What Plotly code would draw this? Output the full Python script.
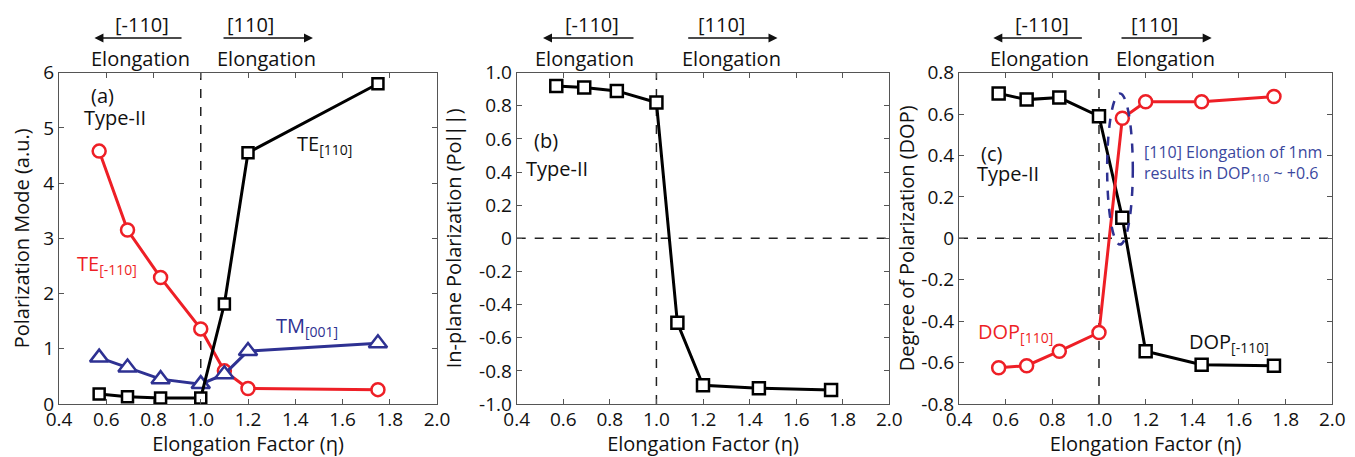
import plotly.graph_objects as go

# ---------------- data ----------------
a_x = [0.57, 0.69, 0.83, 1.0, 1.1, 1.2, 1.75]
te_110p = [0.18, 0.13, 0.11, 0.11, 1.81, 4.55, 5.8]      # TE[110]
te_110m = [4.58, 3.15, 2.29, 1.36, 0.60, 0.28, 0.26]     # TE[-110]
tm_001 = [0.84, 0.66, 0.45, 0.36, 0.54, 0.96, 1.10]      # TM[001]

b_x = [0.57, 0.69, 0.83, 1.0, 1.09, 1.2, 1.44, 1.75]
pol_inplane = [0.92, 0.91, 0.89, 0.82, -0.51, -0.887, -0.905, -0.915]

c_x = [0.57, 0.69, 0.83, 1.0, 1.1, 1.2, 1.44, 1.75]
dop_m110 = [0.70, 0.67, 0.68, 0.59, 0.10, -0.545, -0.61, -0.615]   # DOP[-110]
dop_p110 = [-0.625, -0.615, -0.545, -0.455, 0.58, 0.66, 0.66, 0.685]  # DOP[110]

x_ticks = [0.4, 0.6, 0.8, 1.0, 1.2, 1.4, 1.6, 1.8, 2.0]
x_ticktext = ["0.4", "0.6", "0.8", "1.0", "1.2", "1.4", "1.6", "1.8", "2.0"]
ya_ticks = [0, 1, 2, 3, 4, 5, 6]
yb_ticks = [-1.0, -0.8, -0.6, -0.4, -0.2, 0, 0.2, 0.4, 0.6, 0.8, 1.0]
yb_ticktext = ["-1.0", "-0.8", "-0.6", "-0.4", "-0.2", "0", "0.2", "0.4", "0.6", "0.8", "1.0"]
yc_ticks = [-0.8, -0.6, -0.4, -0.2, 0, 0.2, 0.4, 0.6, 0.8]
yc_ticktext = ["-0.8", "-0.6", "-0.4", "-0.2", "0", "0.2", "0.4", "0.6", "0.8"]

# ---------------- style / layout ----------------
FONT = "Open Sans"
RED = "#ee1f26"
BLUE = "#2e3192"
BLACK = "#000000"
LW = 3
OFF = 8                       # default page body margin
W, H = 1355 - OFF, 457 - OFF

def fx(px):   # page pixel x -> paper fraction
    return (px - OFF) / W

def fy(py):   # page pixel y -> paper fraction
    return (457 - py) / H

fig = go.Figure()

def line_trace(x, y, color, symbol, size, xa, ya):
    return go.Scatter(
        x=x, y=y, mode="lines+markers", xaxis=xa, yaxis=ya,
        line=dict(color=color, width=LW),
        marker=dict(symbol=symbol, size=size, color="white",
                    line=dict(color=color, width=2.5)),
        showlegend=False, cliponaxis=False,
    )

# panel (a)
fig.add_trace(line_trace(a_x, te_110m, RED, "circle", 13, "x", "y"))
fig.add_trace(line_trace(a_x, tm_001, BLUE, "triangle-up", 16, "x", "y"))
fig.add_trace(line_trace(a_x, te_110p, BLACK, "square", 11, "x", "y"))
# panel (b)
fig.add_trace(line_trace(b_x, pol_inplane, BLACK, "square", 12, "x2", "y2"))
# panel (c)
fig.add_trace(line_trace(c_x, dop_m110, BLACK, "square", 12, "x3", "y3"))
fig.add_trace(line_trace(c_x, dop_p110, RED, "circle", 13, "x3", "y3"))

ydom = [fy(404), fy(72.7)]
xdoms = [[fx(59), fx(437)], [fx(516.7), fx(889.3)], [fx(959), fx(1332.3)]]

axis_common = dict(
    showline=True, linecolor="#555555", linewidth=1, mirror="ticks",
    ticks="inside", ticklen=5, tickcolor="#555555", showgrid=False,
    zeroline=False, tickfont=dict(family=FONT, size=19, color="#111"),
    automargin=False,
)

for i, xa in enumerate(["xaxis", "xaxis2", "xaxis3"]):
    anchor_y = "y" if i == 0 else f"y{i+1}"
    fig.update_layout({
        xa: dict(axis_common, domain=xdoms[i], anchor=anchor_y, range=[0.4, 2.0],
                 tickvals=x_ticks, ticktext=x_ticktext, ticklabelstandoff=-2,
                 title=dict(text="Elongation Factor (η)", standoff=0,
                            font=dict(family=FONT, size=20, color="#111"))),
    })

fig.update_layout(
    yaxis=dict(axis_common, domain=ydom, anchor="x", range=[0, 6], tickvals=ya_ticks,
               title=dict(text="Polarization Mode (a.u.)", standoff=9,
                          font=dict(family=FONT, size=20, color="#111"))),
    yaxis2=dict(axis_common, domain=ydom, anchor="x2", range=[-1, 1], tickvals=yb_ticks,
                ticktext=yb_ticktext,
                title=dict(text="In-plane Polarization (Pol||)", standoff=12,
                           font=dict(family=FONT, size=20, color="#111"))),
    yaxis3=dict(axis_common, domain=ydom, anchor="x3", range=[-0.8, 0.8], tickvals=yc_ticks,
                ticktext=yc_ticktext,
                title=dict(text="Degree of Polarization (DOP)", standoff=1,
                           font=dict(family=FONT, size=20, color="#111"))),
)

# dashed reference lines
shapes = []
for xr, yr in [("x", "y"), ("x2", "y2"), ("x3", "y3")]:
    shapes.append(dict(type="line", xref=xr, yref=f"{yr} domain", x0=1.0, x1=1.0, y0=0, y1=1,
                       line=dict(color="#222", width=1.5, dash="dash"), layer="below"))
for xr, yr in [("x2", "y2"), ("x3", "y3")]:
    shapes.append(dict(type="line", xref=f"{xr} domain", yref=yr, x0=0, x1=1, y0=0, y1=0,
                       line=dict(color="#222", width=1.5, dash="dash"), layer="below"))
# ellipse in panel (c)
shapes.append(dict(type="circle", xref="x3", yref="y3", x0=1.035, x1=1.145, y0=-0.03, y1=0.70,
                   line=dict(color=BLUE, width=2.5, dash="dash")))
fig.update_layout(shapes=shapes)

ann = []
def txt(text, x, y, xref, yref, color="#111", size=20, xanchor="left"):
    ann.append(dict(text=text, x=x, y=y, xref=xref, yref=yref, showarrow=False,
                    xanchor=xanchor, yanchor="middle", borderpad=0,
                    font=dict(family=FONT, size=size, color=color)))

# top direction labels
tops = [
    ("x", 0.75, 0.925, 0.55, 1.21, 1.09, 1.475, 0.743, 1.28),
    ("x2", 0.722, 0.908, 0.513, 1.28, 1.13, 1.52, 0.693, 1.323),
    ("x3", 0.754, 0.933, 0.547, 1.24, 1.09, 1.483, 0.747, 1.283),
]
for xr, lx, lt, lh, rx, rt, rh, el, er in tops:
    txt("[-110]", lx, fy(25), xr, "paper", size=20, xanchor="center")
    txt("[110]", rx, fy(25), xr, "paper", size=20, xanchor="center")
    txt("Elongation", el, fy(58), xr, "paper", size=20, xanchor="center")
    txt("Elongation", er, fy(58), xr, "paper", size=20, xanchor="center")
    for tail, head in [(lt, lh), (rt, rh)]:
        ann.append(dict(text="", x=head, y=fy(38), xref=xr, yref="paper",
                        ax=tail, ay=0, axref=xr, ayref="pixel", showarrow=True,
                        arrowhead=2, arrowsize=1.2, arrowwidth=1.5, arrowcolor="#111"))

# panel (a) labels
txt("(a)", 0.531, 5.58, "x", "y")
txt("Type-II", 0.503, 5.19, "x", "y")
txt("TE<sub>[110]</sub>", 1.405, 4.70, "x", "y")
txt("TE<sub>[-110]</sub>", 0.472, 2.53, "x", "y", color=RED)
txt("TM<sub>[001]</sub>", 1.314, 1.41, "x", "y", color=BLUE)
# panel (b)
txt("(b)", 0.471, 0.593, "x2", "y2")
txt("Type-II", 0.436, 0.42, "x2", "y2")
# panel (c)
txt("(c)", 0.49, 0.408, "x3", "y3")
txt("Type-II", 0.472, 0.311, "x3", "y3")
txt("DOP<sub>[110]</sub>", 0.476, -0.455, "x3", "y3", color=RED)
txt("DOP<sub>[-110]</sub>", 1.383, -0.503, "x3", "y3")
txt("[110] Elongation of 1nm", 1.19, 0.416, "x3", "y3", color="#3a479e", size=16)
txt("results in DOP<sub>110</sub> ~ +0.6", 1.19, 0.311, "x3", "y3", color="#3a479e", size=16)

fig.update_layout(
    annotations=ann,
    width=W, height=H,
    margin=dict(l=0, r=0, t=0, b=0),
    paper_bgcolor="white", plot_bgcolor="white",
    template="none",
    font=dict(family=FONT, color="#111"),
)

fig.write_html("out.html")
